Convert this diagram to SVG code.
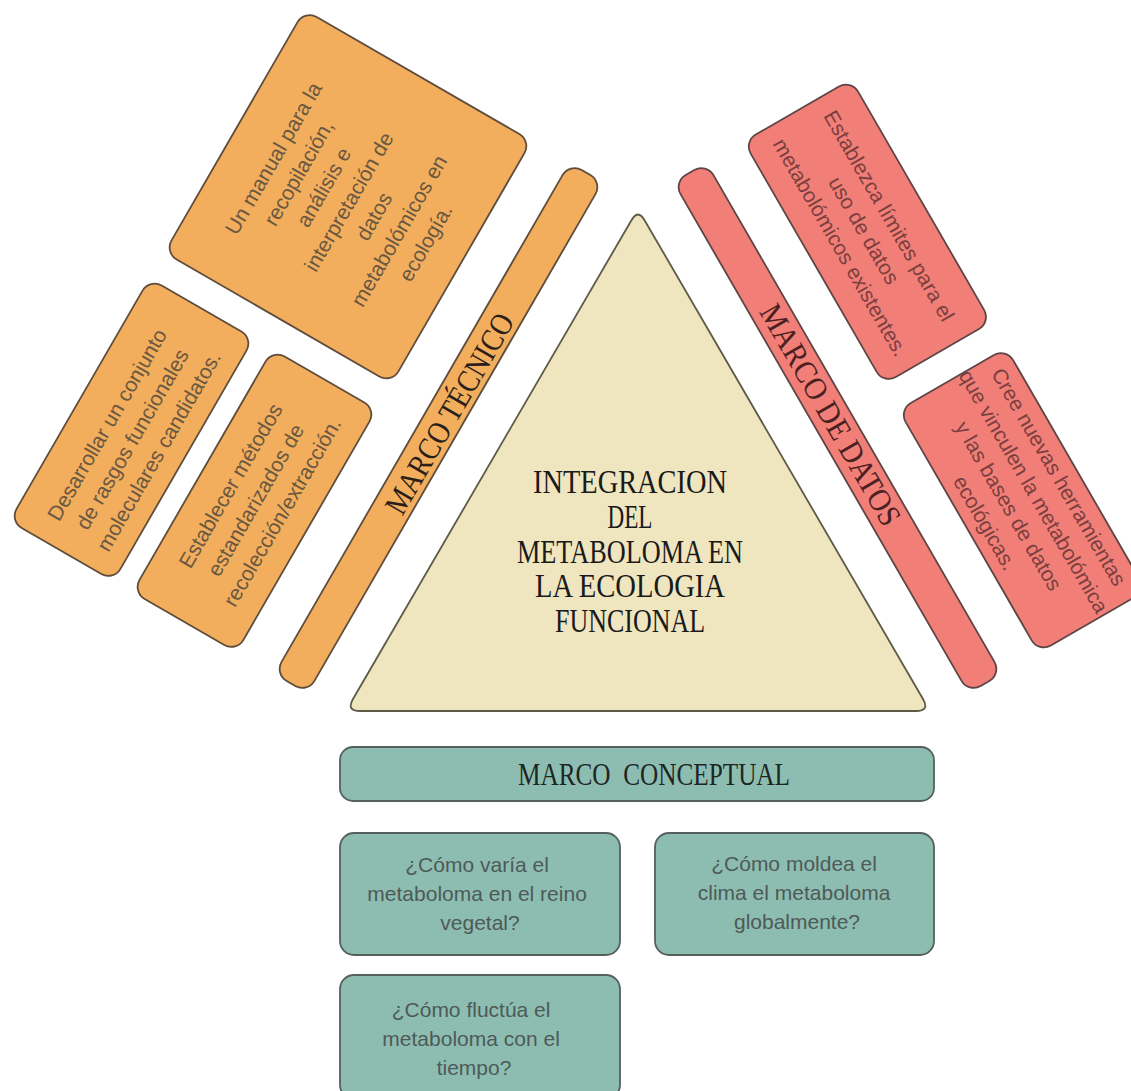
<svg xmlns="http://www.w3.org/2000/svg" width="1131" height="1091" viewBox="0 0 1131 1091">
<style>
.or{fill:#F2AE5D;stroke:#5e4c3c;stroke-width:1.8}
.rd{fill:#F17F78;stroke:#5e4545;stroke-width:1.8}
.tl{fill:#8DBDB1;stroke:#55605c;stroke-width:1.8}
.tri{fill:#EFE5BF;stroke:#5e5a48;stroke-width:1.8}
.ts{font-family:"Liberation Sans",Arial,sans-serif;font-size:21px;text-anchor:middle}
.tor{fill:#6a5840}
.trd{fill:#7a3e3e}
.ttl{fill:#4d5a57}
.hd{font-family:"Liberation Serif","Times New Roman",serif;font-size:32px;text-anchor:middle}
.ctr{font-family:"Liberation Serif","Times New Roman",serif;font-size:33px;fill:#1a1a1a;text-anchor:middle}
</style>
<rect width="1131" height="1091" fill="#ffffff"/>
<g id="connectors"/>

<g id="tecnico" transform="translate(438.5,428) rotate(-60)">
  <g id="marco-tecnico">
    <rect class="or" x="-295" y="-19" width="590" height="38" rx="14"/>
    <text class="hd" x="18" y="13" fill="#2a1f1a" textLength="226" lengthAdjust="spacingAndGlyphs">MARCO TÉCNICO</text>
  </g>
  <g id="manual">
    <rect class="or" x="15" y="-325" width="280" height="262" rx="14"/>
    <text class="ts tor">
      <tspan x="154" y="-270.5">Un manual para la</tspan>
      <tspan x="154" y="-241.5">recopilación,</tspan>
      <tspan x="154" y="-212.5">análisis e</tspan>
      <tspan x="154" y="-183.5">interpretación de</tspan>
      <tspan x="154" y="-154.5">datos</tspan>
      <tspan x="154" y="-125.5">metabolómicos en</tspan>
      <tspan x="154" y="-96.5">ecología.</tspan>
    </text>
  </g>
  <g id="desarrollar">
    <rect class="or" x="-295" y="-325" width="280" height="120" rx="14"/>
    <text class="ts tor">
      <tspan x="-160" y="-281.4">Desarrollar un conjunto</tspan>
      <tspan x="-160" y="-252.4">de rasgos funcionales</tspan>
      <tspan x="-160" y="-223.4">moleculares candidatos.</tspan>
    </text>
  </g>
  <g id="establecer">
    <rect class="or" x="-295" y="-183" width="280" height="120" rx="14"/>
    <text class="ts tor">
      <tspan x="-151" y="-144">Establecer métodos</tspan>
      <tspan x="-151" y="-115">estandarizados de</tspan>
      <tspan x="-151" y="-86">recolección/extracción.</tspan>
    </text>
  </g>
</g>

<g id="datos" transform="translate(837.5,428) rotate(60)">
  <g id="marco-datos">
    <rect class="rd" x="-295" y="-19" width="590" height="38" rx="14"/>
    <text class="hd" x="-15" y="10" fill="#4a2020" textLength="250" lengthAdjust="spacingAndGlyphs">MARCO DE DATOS</text>
  </g>
  <g id="establezca">
    <rect class="rd" x="-295" y="-186" width="280" height="124" rx="14"/>
    <text class="ts trd">
      <tspan x="-155" y="-143.5">Establezca límites para el</tspan>
      <tspan x="-155" y="-114.5">uso de datos</tspan>
      <tspan x="-155" y="-85.5">metabolómicos existentes.</tspan>
    </text>
  </g>
  <g id="cree">
    <rect class="rd" x="15" y="-186" width="280" height="124" rx="14"/>
    <text class="ts trd">
      <tspan x="156" y="-160">Cree nuevas herramientas</tspan>
      <tspan x="156" y="-131">que vinculen la metabolómica</tspan>
      <tspan x="156" y="-102">y las bases de datos</tspan>
      <tspan x="156" y="-73">ecológicas.</tspan>
    </text>
  </g>
</g>

<g id="integracion">
  <path class="tri" d="M631,221 Q638,208 645,221 L923,699 Q930,711 916,711 L360,711 Q346,711 353,699 Z"/>
  <text class="ctr" x="630" y="493" textLength="194" lengthAdjust="spacingAndGlyphs">INTEGRACION</text>
  <text class="ctr" x="630" y="528" textLength="45" lengthAdjust="spacingAndGlyphs">DEL</text>
  <text class="ctr" x="630" y="563" textLength="226" lengthAdjust="spacingAndGlyphs">METABOLOMA EN</text>
  <text class="ctr" x="630" y="597" textLength="190" lengthAdjust="spacingAndGlyphs">LA ECOLOGIA</text>
  <text class="ctr" x="630" y="632" textLength="150" lengthAdjust="spacingAndGlyphs">FUNCIONAL</text>
</g>

<g id="marco-conceptual">
  <rect class="tl" x="340" y="747" width="594" height="54" rx="13"/>
  <text class="hd" x="654" y="785" fill="#1e2624" textLength="272" lengthAdjust="spacingAndGlyphs" xml:space="preserve">MARCO  CONCEPTUAL</text>
</g>

<g id="q-reino">
  <rect class="tl" x="340" y="833" width="280" height="122" rx="14"/>
  <text class="ts ttl">
    <tspan x="480" y="872">¿Cómo varía el</tspan>
    <tspan x="480" y="901">metaboloma en el reino</tspan>
    <tspan x="480" y="930">vegetal?</tspan>
  </text>
</g>

<g id="q-clima">
  <rect class="tl" x="655" y="833" width="279" height="122" rx="14"/>
  <text class="ts ttl">
    <tspan x="797" y="871">¿Cómo moldea el</tspan>
    <tspan x="797" y="900">clima el metaboloma</tspan>
    <tspan x="797" y="929">globalmente?</tspan>
  </text>
</g>

<g id="q-tiempo">
  <rect class="tl" x="340" y="975" width="280" height="124" rx="14"/>
  <text class="ts ttl">
    <tspan x="474" y="1017">¿Cómo fluctúa el</tspan>
    <tspan x="474" y="1046">metaboloma con el</tspan>
    <tspan x="474" y="1075">tiempo?</tspan>
  </text>
</g>
</svg>
